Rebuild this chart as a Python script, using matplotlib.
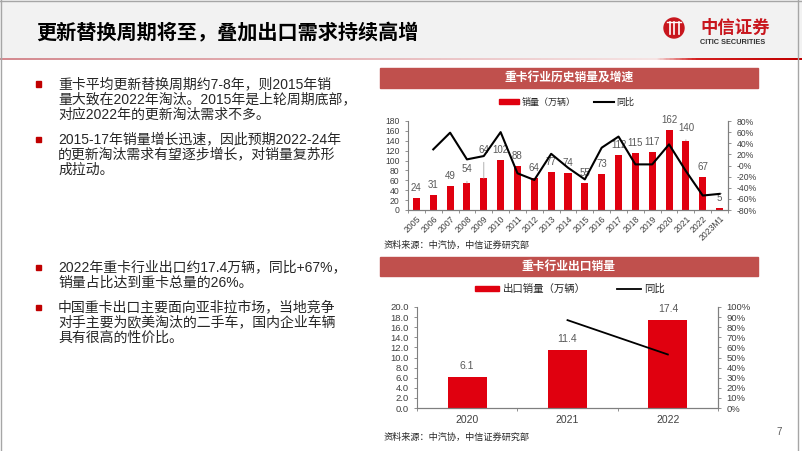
import numpy as np
import matplotlib.pyplot as plt
from matplotlib.patches import Rectangle, Patch, Circle
from matplotlib.lines import Line2D
from matplotlib.colors import LinearSegmentedColormap
from matplotlib.ticker import FuncFormatter, FixedLocator

plt.rcParams['font.family'] = ['Liberation Sans', 'Noto Sans CJK SC']

# 重卡行业历史销量（万辆）及同比（%）
years = ['2005', '2006', '2007', '2008', '2009', '2010', '2011', '2012', '2013',
         '2014', '2015', '2016', '2017', '2018', '2019', '2020', '2021', '2022', '2023M1']
sales = [24, 31, 49, 54, 64, 102, 88, 64, 77, 74, 55, 73, 112, 115, 117, 162, 140, 67, 5]
yoy = [np.nan, 29, 59, 11, 17, 60, -14, -26, 21, -4, -25, 32, 52, 2, 2, 38, -10, -54, -51]

# 重卡出口销量（万辆）及同比（%）
exp_years = ['2020', '2021', '2022']
exp_sales = [6.1, 11.4, 17.4]
exp_yoy = [np.nan, 87, 53]

title = '更新替换周期将至，叠加出口需求持续高增'
chart1_title = '重卡行业历史销量及增速'
chart2_title = '重卡行业出口销量'
source = '资料来源：中汽协，中信证券研究部'
bullets = [
    ['重卡平均更新替换周期约7-8年，则2015年销',
     '量大致在2022年淘汰。2015年是上轮周期底部，',
     '对应2022年的更新淘汰需求不多。'],
    ['2015-17年销量增长迅速，因此预期2022-24年',
     '的更新淘汰需求有望逐步增长，对销量复苏形',
     '成拉动。'],
    ['2022年重卡行业出口约17.4万辆，同比+67%，',
     '销量占比达到重卡总量的26%。'],
    ['中国重卡出口主要面向亚非拉市场，当地竞争',
     '对手主要为欧美淘汰的二手车，国内企业车辆',
     '具有很高的性价比。'],
]

W, H = 802, 451
RED = '#E0000F'
BAND = '#C0504D'
TXT = '#262626'
TICK = '#404040'
LBL = '#595959'
SPINE = '#7F7F7F'


def fx(x):
    return x / W


def fy(y):
    return 1 - y / H


fig = plt.figure(figsize=(W / 100, H / 100), dpi=100)

# 页眉
fig.patches.append(Rectangle((0, fy(57)), 1, 57 / H, transform=fig.transFigure,
                             color='#F2F2F2', zorder=-1))
grad = LinearSegmentedColormap.from_list('g', [(0, '#D48A90'), (0.55, '#EBC4C6'),
                                               (0.82, '#F6E4E4'), (0.87, '#D42020'),
                                               (1, '#C00000')])
gax = fig.add_axes([0, fy(60.5), 1, 3 / H])
gax.imshow(np.linspace(0, 1, 400)[None, :], aspect='auto', cmap=grad)
gax.axis('off')
fig.text(fx(36), fy(33), title, fontsize=14.5, fontweight='bold', va='center',
         color='black', family=['Noto Sans CJK SC'])

# logo
lax = fig.add_axes([fx(663), fy(39), 22 / W, 22 / H], zorder=5)
lax.set_xlim(-1.1, 1.1)
lax.set_ylim(-1.1, 1.1)
lax.add_patch(Circle((0, 0), 1, color='#C8161D'))
for xv in [-0.45, 0, 0.45]:
    lax.plot([xv, xv], [-0.6, 0.6], color='white', lw=1.2)
lax.plot([-0.7, 0.7], [0.6, 0.6], color='white', lw=1)
lax.axis('off')
fig.text(fx(700), fy(28), '中信证券', fontsize=12.5, fontweight='bold', va='center',
         color='#C8161D', family=['Noto Sans CJK SC'])
fig.text(fx(700), fy(42), 'CITIC SECURITIES', fontsize=5.3, fontweight='bold',
         va='center', color='#333333')

# 边框
fig.add_artist(Line2D([fx(798), fx(798)], [0, 1], transform=fig.transFigure,
                      color='#A6A6A6', lw=1))
fig.add_artist(Line2D([fx(1), fx(1)], [0, 1], transform=fig.transFigure,
                      color='#A6A6A6', lw=1))
fig.add_artist(Line2D([0, 1], [fy(0.5), fy(0.5)], transform=fig.transFigure,
                      color='#A6A6A6', lw=1))

# 左侧文字
bullet_y = [84, 139, 267, 307]
for by, lines in zip(bullet_y, bullets):
    fig.patches.append(Rectangle((fx(35.5), fy(by + 2.5)), 5 / W, 5 / H,
                                 transform=fig.transFigure, color='#C00000'))
    for k, line in enumerate(lines):
        fig.text(fx(58), fy(by + k * 15.5), line, fontsize=10, va='center', color=TXT)

# 标题条
for y0, y1, t in [(68, 88, chart1_title), (257, 276, chart2_title)]:
    fig.patches.append(Rectangle((fx(380), fy(y1)), (758 - 380) / W, (y1 - y0) / H,
                                 transform=fig.transFigure, color=BAND))
    fig.text(fx(569), fy((y0 + y1) / 2), t, fontsize=8.5, fontweight='bold',
             color='white', ha='center', va='center', family=['Noto Sans CJK SC'])


def style_axes(ax):
    ax.spines['top'].set_visible(False)
    for s in ['left', 'right', 'bottom']:
        ax.spines[s].set_color(SPINE)
        ax.spines[s].set_linewidth(0.8)
    ax.tick_params(colors=SPINE, labelcolor=TICK, length=2.5, width=0.6)


# 图1：历史销量
ax1 = fig.add_axes([fx(408), fy(210), (728 - 408) / W, (210 - 121) / H])
x = np.arange(len(years))
ax1.bar(x, sales, width=0.42, color=RED, zorder=2)
ax1.set_xlim(-0.5, len(years) - 0.5)
ax1.set_ylim(0, 180)
ax1.set_yticks(np.arange(0, 181, 20))
ax1.set_xticks(x)
ax1.set_xticklabels(years, rotation=45, ha='right', rotation_mode='anchor', fontsize=6.2)
ax1.xaxis.set_minor_locator(FixedLocator(np.arange(-0.5, len(years), 1)))
style_axes(ax1)
ax1.tick_params(axis='x', which='minor', length=2.5, color=SPINE)
ax1.tick_params(axis='y', labelsize=6.2)
ax1.tick_params(axis='x', length=0, pad=3)

lifts = {3: 14, 4: 28, 16: 13}
for i, v in enumerate(sales):
    lift = lifts.get(i, 10)
    arrow = dict(arrowstyle='-', color='#A6A6A6', lw=0.6, shrinkA=3, shrinkB=0) if i in lifts else None
    ax1.annotate(str(v), (i, v), xytext=(0, lift * 0.72), textcoords='offset points',
                 ha='center', va='center', fontsize=7, color=LBL, arrowprops=arrow, zorder=3)

ax1r = ax1.twinx()
ax1r.plot(x, np.array(yoy) / 100, color='black', lw=1.5)
ax1r.set_ylim(-0.8, 0.8)
ax1r.set_yticks(np.arange(-0.8, 0.81, 0.2))
ax1r.yaxis.set_major_formatter(FuncFormatter(lambda v, p: f'{v * 100:.0f}%'))
style_axes(ax1r)
ax1r.spines['left'].set_visible(False)
ax1r.tick_params(axis='y', labelsize=6.2)

fig.legend([Patch(color=RED), Line2D([], [], color='black', lw=1.5)],
           ['销量（万辆）', '同比'], loc='center', bbox_to_anchor=(fx(567), fy(102)),
           ncol=2, frameon=False, fontsize=6.5, handlelength=2.2, handleheight=0.45,
           handletextpad=0.3, columnspacing=2.0, labelcolor=TXT)
fig.text(fx(384), fy(245), source, fontsize=6.6, va='center', color=TXT)

# 图2：出口销量
ax2 = fig.add_axes([fx(417), fy(408), (718 - 417) / W, (408 - 307) / H])
xe = np.arange(len(exp_years))
ax2.bar(xe, exp_sales, width=0.39, color=RED, zorder=2)
ax2.set_xlim(-0.5, len(exp_years) - 0.5)
ax2.set_ylim(0, 20)
ax2.set_yticks(np.arange(0, 20.1, 2))
ax2.yaxis.set_major_formatter(FuncFormatter(lambda v, p: f'{v:.1f}'))
ax2.set_xticks(xe)
ax2.set_xticklabels(exp_years, fontsize=7.5)
ax2.xaxis.set_minor_locator(FixedLocator(np.arange(-0.5, len(exp_years), 1)))
style_axes(ax2)
ax2.tick_params(axis='x', which='minor', length=2.5, color=SPINE)
ax2.tick_params(axis='y', labelsize=6.8)
ax2.tick_params(axis='x', length=0, pad=5)
for i, v in enumerate(exp_sales):
    ax2.annotate(f'{v:.1f}', (i, v), xytext=(0, 8), textcoords='offset points',
                 ha='center', va='center', fontsize=7.5, color=LBL)

ax2r = ax2.twinx()
ax2r.plot(xe, np.array(exp_yoy) / 100, color='black', lw=1.3)
ax2r.set_ylim(0, 1)
ax2r.set_yticks(np.arange(0, 1.01, 0.1))
ax2r.yaxis.set_major_formatter(FuncFormatter(lambda v, p: f'{v * 100:.0f}%'))
style_axes(ax2r)
ax2r.spines['left'].set_visible(False)
ax2r.tick_params(axis='y', labelsize=6.8)

fig.legend([Patch(color=RED), Line2D([], [], color='black', lw=1.3)],
           ['出口销量（万辆）', '同比'], loc='center', bbox_to_anchor=(fx(570), fy(289)),
           ncol=2, frameon=False, fontsize=7.5, handlelength=2.3, handleheight=0.45,
           handletextpad=0.3, columnspacing=3.0, labelcolor=TXT)
fig.text(fx(384), fy(437), source, fontsize=6.6, va='center', color=TXT)
fig.text(fx(776), fy(432), '7', fontsize=7, va='center', color='#595959')

fig.savefig('out.png', dpi=100)
